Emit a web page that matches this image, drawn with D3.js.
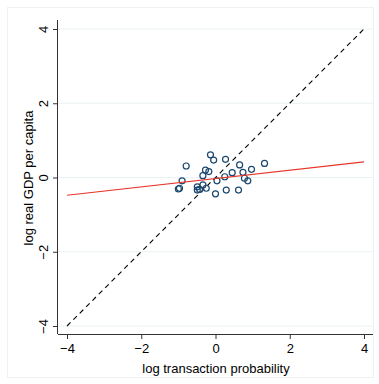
<!DOCTYPE html>
<html>
<head>
<meta charset="utf-8">
<script src="https://cdn.jsdelivr.net/npm/d3@7"></script>
<style>
  body { margin: 0; background: #fff; }
  text { font-family: "Liberation Sans", Arial, sans-serif; fill: #000; }
</style>
</head>
<body>
<svg id="chart" width="379" height="384"></svg>
<script>
// scatter points
const xVals = [-0.135, -0.05, 0.27, 0.65, -0.79, 1.32, -0.27, -0.18, -0.34, 0.45, 0.74, 0.97, 0.25, 0.78, 0.87, 0.04, -0.90, -0.97, -1.0, -0.49, -0.43, -0.34, -0.25, -0.49, 0.29, 0.62, 0.0];
const yVals = [0.61, 0.47, 0.49, 0.34, 0.31, 0.38, 0.20, 0.16, 0.05, 0.13, 0.14, 0.22, 0.02, -0.02, -0.09, -0.09, -0.09, -0.29, -0.31, -0.25, -0.32, -0.20, -0.29, -0.34, -0.34, -0.34, -0.44];
const fitLine = [[-4, -0.48], [4, 0.42]];
const diagLine = [[-4, -4], [4, 4]];
const ticks = [-4, -2, 0, 2, 4];

const svg = d3.select("#chart");
const plotL = 58, plotR = 373, plotT = 20, plotB = 334;

const x = d3.scaleLinear().domain([-4, 4]).range([67, 364]);
const y = d3.scaleLinear().domain([-4, 4]).range([326, 29]);

// faint outer frame
svg.append("rect")
  .attr("x", 7.5).attr("y", 7.5).attr("width", 366).attr("height", 370)
  .attr("fill", "none").attr("stroke", "#eef2f4");

// gridlines
svg.append("g").selectAll("line")
  .data(ticks).join("line")
  .attr("x1", plotL).attr("x2", plotR)
  .attr("y1", (d) => y(d)).attr("y2", (d) => y(d))
  .attr("stroke", "#eaf2f3").attr("stroke-width", 1);

const line = d3.line().x((d) => x(d[0])).y((d) => y(d[1]));

svg.append("path")
  .attr("d", line(diagLine))
  .attr("fill", "none").attr("stroke", "#000")
  .attr("stroke-width", 1.1).attr("stroke-dasharray", "5,4");

svg.append("g").selectAll("circle")
  .data(xVals.map((d, i) => [d, yVals[i]])).join("circle")
  .attr("cx", (d) => x(d[0])).attr("cy", (d) => y(d[1]))
  .attr("r", 3)
  .attr("fill", "none").attr("stroke", "#1a476f").attr("stroke-width", 1.2);

svg.append("path")
  .attr("d", line(fitLine))
  .attr("fill", "none").attr("stroke", "#e8352b").attr("stroke-width", 1.1);

// axes
const xAxis = (g) =>
  g.attr("transform", `translate(0,${plotB})`)
    .call(d3.axisBottom(x).tickValues(ticks).tickSize(5).tickSizeOuter(0))
    .call((g) => g.select(".domain").attr("d", `M${plotL},0.5H${plotR}`))
    .call((g) => g.selectAll("text").attr("font-size", 13).attr("dy", "0.85em"));

const yAxis = (g) =>
  g.attr("transform", `translate(${plotL},0)`)
    .call(d3.axisLeft(y).tickValues(ticks).tickSize(5).tickSizeOuter(0))
    .call((g) => g.select(".domain").attr("d", `M-0.5,${plotT}V${plotB}`))
    .call((g) => g.selectAll("text")
      .attr("font-size", 13)
      .attr("x", null).attr("dy", null)
      .attr("text-anchor", "middle")
      .attr("transform", "translate(-10,0) rotate(-90)"));

svg.append("g").call(xAxis);
svg.append("g").call(yAxis);
svg.selectAll(".tick line").attr("stroke", "#333");
svg.selectAll(".domain").attr("stroke", "#333");

svg.append("text")
  .attr("x", 216).attr("y", 373)
  .attr("text-anchor", "middle").attr("font-size", 13)
  .text("log transaction probability");

svg.append("text")
  .attr("transform", "translate(33,178) rotate(-90)")
  .attr("text-anchor", "middle").attr("font-size", 13)
  .text("log real GDP per capita");
</script>
</body>
</html>
